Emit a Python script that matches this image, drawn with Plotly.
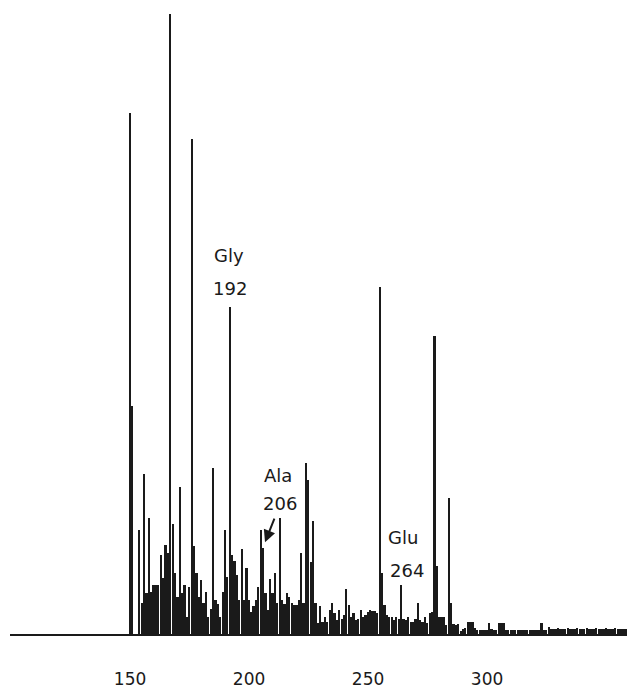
import plotly.graph_objects as go

# m/z values and relative intensities (%)
mz = list(range(150, 360))
intensity_map = {
    150: 84, 151: 36.8, 152: 0, 153: 0, 154: 16.8, 155: 5, 156: 25.8, 157: 6.6,
    158: 18.7, 159: 6.8, 160: 7.9, 161: 7.9, 162: 7.9, 163: 12.7, 164: 9,
    165: 14.4, 166: 13, 167: 100, 168: 17.7, 169: 9.8, 170: 6, 171: 23.7,
    172: 6.6, 173: 7.9, 174: 2.7, 175: 7.6, 176: 79.8, 177: 14.2, 178: 9.8,
    179: 6, 180: 8.7, 181: 5, 182: 6.8, 183: 2.7, 184: 4, 185: 26.8, 186: 5.5,
    187: 4.8, 188: 2.7, 189: 6.8, 190: 16.8, 191: 9.2, 192: 52.7, 193: 12.7,
    194: 11.8, 195: 9.5, 196: 5.5, 197: 13.7, 198: 5.5, 199: 10.6, 200: 5.5,
    201: 3.5, 202: 4.5, 203: 5.5, 204: 7.6, 205: 16.8, 206: 13.9, 207: 6.6,
    208: 3.9, 209: 8.9, 210: 6.6, 211: 9.8, 212: 5, 213: 18.7, 214: 5.5,
    215: 4.8, 216: 6.6, 217: 6, 218: 5, 219: 4.7, 220: 4.7, 221: 5.5, 222: 13,
    223: 5, 224: 27.6, 225: 24.8, 226: 11.6, 227: 18.2, 228: 5, 229: 1.8,
    230: 4.5, 231: 2, 232: 2.7, 233: 2, 234: 3.9, 235: 5, 236: 3.4, 237: 2.2,
    238: 3.9, 239: 2.5, 240: 3, 241: 7.2, 242: 4.7, 243: 2.7, 244: 3.4,
    245: 2.3, 246: 2.5, 247: 3.9, 248: 2.7, 249: 3, 250: 3.5, 251: 3.9,
    252: 3.7, 253: 3.7, 254: 3.4, 255: 56, 256: 9.8, 257: 4.7, 258: 3,
    259: 2.7, 260: 2.7, 261: 2.3, 262: 2.7, 263: 2.5, 264: 7.9, 265: 2.5,
    266: 2.3, 267: 2.7, 268: 2, 269: 2, 270: 2.5, 271: 5, 272: 2.3, 273: 2,
    274: 2.7, 275: 1.8, 276: 3.4, 277: 3.5, 278: 48, 279: 11, 280: 2.7,
    281: 2.7, 282: 2.7, 283: 1.5, 284: 22, 285: 5, 286: 1.6, 287: 1.5,
    288: 1.6, 289: 0.5, 290: 0.8, 291: 1, 292: 2, 293: 2, 294: 2, 295: 1,
    296: 0.6, 297: 0.6, 298: 0.6, 299: 0.6, 300: 0.6, 301: 1.8, 302: 0.8,
    303: 0.6, 304: 0.6, 305: 1.8, 306: 1.8, 307: 1.8, 308: 0.7, 309: 0.7,
    310: 0.7, 311: 0.7, 312: 0.7, 313: 0.7, 314: 0.7, 315: 0.7, 316: 0.7,
    317: 0.7, 318: 0.7, 319: 0.7, 320: 0.7, 321: 0.7, 322: 0.7, 323: 1.8,
    324: 0.7, 325: 0.7, 326: 1.1, 327: 0.8, 328: 0.8, 329: 0.8, 330: 0.9,
    331: 0.8, 332: 0.8, 333: 0.8, 334: 0.9, 335: 0.8, 336: 0.8, 337: 0.8,
    338: 0.9, 339: 0.8, 340: 0.8, 341: 0.8, 342: 0.9, 343: 0.8, 344: 0.8,
    345: 0.8, 346: 0.9, 347: 0.8, 348: 0.8, 349: 0.8, 350: 0.9, 351: 0.8,
    352: 0.8, 353: 0.8, 354: 0.9, 355: 0.8, 356: 0.8, 357: 0.8, 358: 0.8,
    359: 0.8,
}
intensity = [intensity_map[m] for m in mz]

tick_vals = [150, 200, 250, 300]
tick_text = ["150", "200", "250", "300"]

# labelled peaks: name, m/z
label_names = ["Gly", "Ala", "Glu"]
label_mz = [192, 206, 264]

INK = "#1a1a1a"
FONT = "DejaVu Sans"

fig = go.Figure()
fig.add_trace(go.Bar(
    x=mz, y=intensity, width=0.72,
    marker=dict(color=INK, line=dict(width=0)),
    hoverinfo="x+y",
))

# label text placement (offsets in data units from the peak)
label_offsets = {
    "Gly": dict(dx=-0.4, y_name=61.0, y_num=55.8, dx_num=0.0),
    "Ala": dict(dx=6.2, y_name=25.5, y_num=21.1, dx_num=7.0),
    "Glu": dict(dx=0.8, y_name=15.5, y_num=10.2, dx_num=2.5),
}
annotations = []
for name, m in zip(label_names, label_mz):
    o = label_offsets[name]
    annotations.append(dict(x=m + o["dx"], y=o["y_name"], text=name, showarrow=False,
                            xref="x", yref="y", font=dict(size=18, color=INK, family=FONT)))
    annotations.append(dict(x=m + o["dx_num"], y=o["y_num"], text=str(m), showarrow=False,
                            xref="x", yref="y", font=dict(size=18, color=INK, family=FONT)))

# arrow pointing to Ala peak
annotations.append(dict(x=206.7, y=14.8, xref="x", yref="y", text="", showarrow=True,
                        ax=10, ay=-25, arrowhead=2, arrowsize=1.2, arrowwidth=2,
                        arrowcolor=INK))

fig.update_layout(
    width=627, height=693,
    margin=dict(l=10, r=0, t=0, b=59, autoexpand=False),
    paper_bgcolor="white", plot_bgcolor="white",
    showlegend=False,
    bargap=0,
    xaxis=dict(range=[99.56, 358.8], tickvals=tick_vals, ticktext=tick_text,
               showgrid=False, zeroline=False, showline=True, linecolor=INK,
               linewidth=2, ticks="", ticklabelstandoff=29, automargin=False,
               tickfont=dict(size=17, color=INK, family=FONT)),
    yaxis=dict(range=[0, 102.26], visible=False, showgrid=False, zeroline=False,
               automargin=False),
    annotations=annotations,
)

fig.write_html("out.html", config={"displayModeBar": False},
               post_script="document.body.style.margin='0px';document.body.style.overflow='hidden';")
